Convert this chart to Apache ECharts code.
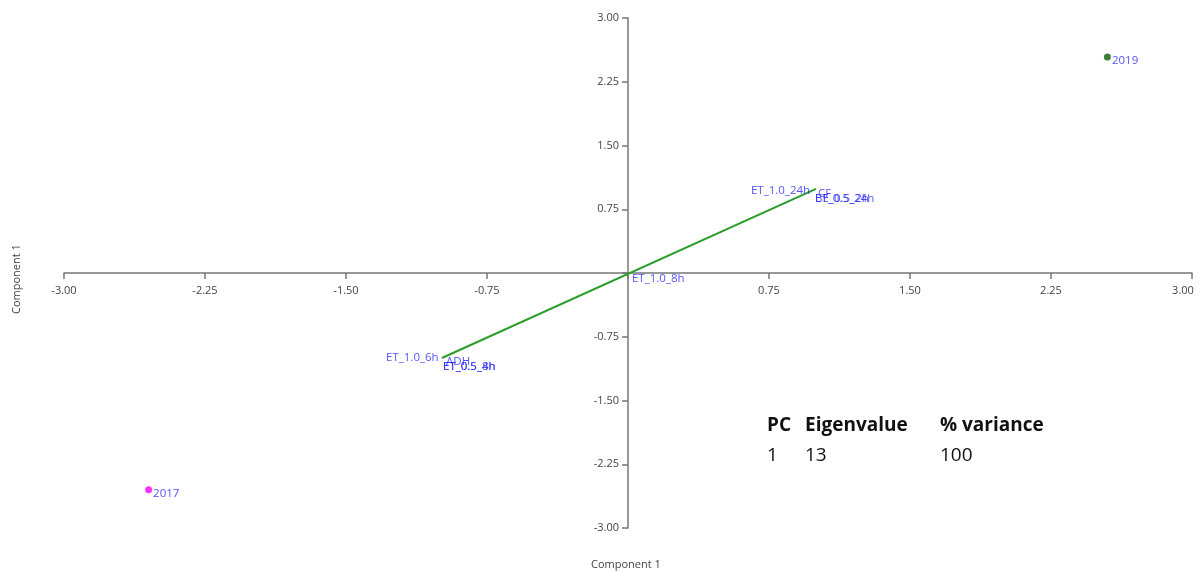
<!DOCTYPE html>
<html><head><meta charset="utf-8">
<script src="https://cdn.jsdelivr.net/npm/echarts@6/dist/echarts.min.js"></script>
<style>html,body{margin:0;padding:0;background:#fff}#c{width:1200px;height:572px}</style>
</head><body><div id="c"></div>
<script>
// Scores (samples)
const scoreNames = ['2017', '2019'];
const scoreX = [-2.55, 2.55];
const scoreY = [-2.55, 2.54];
const scoreColors = ['#ff00ff', '#0a5c0a'];
// Loading vector (biplot line)
const loadLineX = [-0.99, 1.0];
const loadLineY = [-1.0, 0.99];
// Variable labels (label anchor positions)
const varNames = ['ET_1.0_24h', 'CF', 'BE_0.5_2h', 'ET_0.5_24h', 'ET_1.0_8h', 'ET_1.0_6h', 'ADH', 'ET_0.5_4h', 'ET_0.5_8h'];
const varX = [0.654, 1.011, 0.995, 0.995, 0.021, -1.287, -0.968, -0.984, -0.984];
const varY = [0.965, 0.929, 0.871, 0.871, -0.07, -1.0, -1.047, -1.106, -1.106];
// Axis
const axisMin = -3, axisMax = 3, axisStep = 0.75;
const axisTitle = 'Component 1';
// Table
const tableHeader = ['PC', 'Eigenvalue', '% variance'];
const tableRow = ['1', '13', '100'];

const chart = echarts.init(document.getElementById('c'));
const labelBlue = '#2828ff';
const fontFam = '"Open Sans", "Noto Sans", sans-serif';
const gridL = 64, gridR = 8, gridT = 18, gridB = 44;
const plotW = 1200 - gridL - gridR, plotH = 572 - gridT - gridB;

function axisCfg(isX) {
  return {
    type: 'value', min: axisMin, max: axisMax, interval: axisStep,
    position: isX ? 'bottom' : 'left',
    offset: isX ? -plotH / 2 : -plotW / 2,
    axisLine: { onZero: false, lineStyle: { color: '#777', width: 1.5 } },
    axisTick: { show: true, length: 6, lineStyle: { color: '#777', width: 1.5 } },
    splitLine: { show: false },
    axisLabel: {
      color: '#444', fontSize: 11, fontFamily: fontFam, margin: isX ? 12 : 9,
      showMinLabel: true, showMaxLabel: true, hideOverlap: false,
      rich: { edge: { padding: [0, 18, 0, 0], color: '#444', fontSize: 11, fontFamily: fontFam } },
      formatter: v => {
        if (Math.abs(v) < 1e-9) return '';
        const s = v.toFixed(2);
        return (isX && v >= axisMax) ? '{edge|' + s + '}' : s;
      }
    }
  };
}

const colX = [0, 38, 173];
const gfx = [
  { type: 'text', left: 591, top: 559, style: { text: axisTitle, fill: '#444', font: '11px ' + fontFam } },
  { type: 'text', x: 11, y: 314, rotation: Math.PI / 2, style: { text: axisTitle, fill: '#444', font: '11px ' + fontFam } }
];
tableHeader.forEach((t, i) => gfx.push({ type: 'text', left: 767 + colX[i], top: 416, style: { text: t, fill: '#111', font: 'bold 19px ' + fontFam } }));
tableRow.forEach((t, i) => gfx.push({ type: 'text', left: 767 + colX[i], top: 446, style: { text: t, fill: '#111', font: '19px ' + fontFam } }));

chart.setOption({
  animation: false,
  grid: { left: gridL, right: gridR, top: gridT, bottom: gridB, containLabel: false, outerBoundsMode: 'none' },
  xAxis: axisCfg(true),
  yAxis: axisCfg(false),
  graphic: gfx,
  series: [
    {
      type: 'line', data: loadLineX.map((x, i) => [x, loadLineY[i]]),
      symbol: 'none', lineStyle: { color: '#2a9d2a', width: 2 }, z: 2
    },
    {
      type: 'scatter', symbolSize: 0.01,
      data: varNames.map((n, i) => ({ name: n, value: [varX[i], varY[i]] })),
      label: { show: true, position: 'right', distance: 0, formatter: p => p.name, color: labelBlue, fontSize: 11.5, fontFamily: fontFam },
      labelLayout: { hideOverlap: false }, z: 3
    },
    {
      type: 'scatter', symbolSize: 7,
      data: scoreNames.map((n, i) => ({ name: n, value: [scoreX[i], scoreY[i]], itemStyle: { color: scoreColors[i] } })),
      label: { show: true, position: 'right', distance: 1, offset: [0, 4], formatter: p => p.name, color: labelBlue, fontSize: 11.5, fontFamily: fontFam },
      z: 4
    }
  ]
});
</script></body></html>
